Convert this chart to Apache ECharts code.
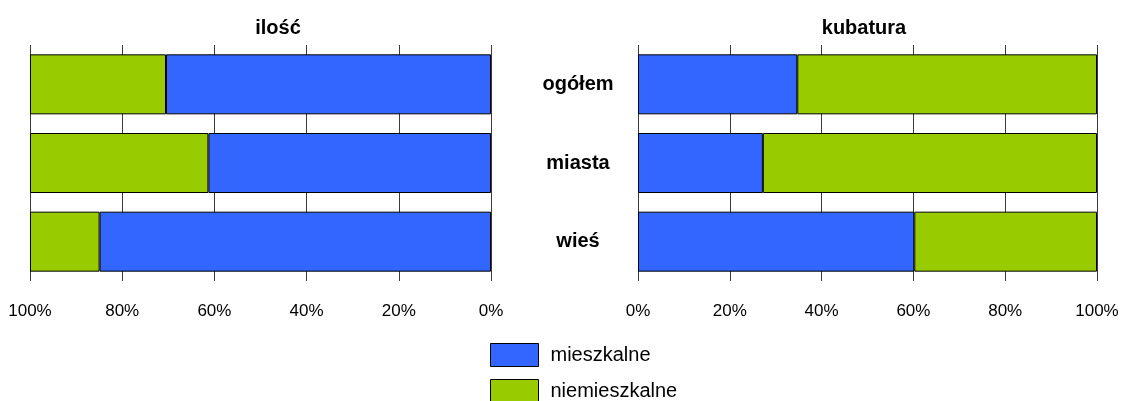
<!DOCTYPE html>
<html>
<head>
<meta charset="utf-8">
<script src="https://cdn.jsdelivr.net/npm/echarts@6/dist/echarts.min.js"></script>
<style>
  html, body { margin: 0; padding: 0; background: #fff; }
  #chart { width: 1144px; height: 401px; }
</style>
</head>
<body>
<div id="chart"></div>
<script>
// Udział budynków mieszkalnych i niemieszkalnych (%)
const categories = ['ogółem', 'miasta', 'wieś'];
const seriesNames = ['mieszkalne', 'niemieszkalne'];
// ilość
const iloscMieszkalne = [70.5, 61.3, 84.9];
const iloscNiemieszkalne = [29.5, 38.7, 15.1];
// kubatura
const kubaturaMieszkalne = [34.7, 27.2, 60.2];
const kubaturaNiemieszkalne = [65.3, 72.8, 39.8];
const panelTitles = ['ilość', 'kubatura'];
const tickValues = [0, 20, 40, 60, 80, 100];

const BLUE = '#3366FF';
const GREEN = '#99CC00';
const FONT = '"Liberation Sans", Arial, sans-serif';

const chart = echarts.init(document.getElementById('chart'), null, { renderer: 'canvas' });

function valueAxis(gridIndex, inverse) {
  return {
    type: 'value',
    gridIndex: gridIndex,
    min: tickValues[0],
    max: tickValues[tickValues.length - 1],
    interval: tickValues[1] - tickValues[0],
    inverse: inverse,
    axisLine: { show: false },
    axisTick: { show: false },
    axisLabel: {
      formatter: '{value}%',
      color: '#000',
      fontFamily: FONT,
      fontSize: 17,
      margin: 22
    },
    splitLine: { show: true, lineStyle: { color: '#3a3a3a', width: 1 } }
  };
}

function catAxis(gridIndex, showLabels) {
  return {
    type: 'category',
    gridIndex: gridIndex,
    data: categories,
    inverse: true,
    position: 'right',
    axisLine: { show: false },
    axisTick: { show: false },
    splitLine: { show: false },
    axisLabel: {
      show: showLabels,
      align: 'center',
      margin: 87,
      color: '#000',
      fontFamily: FONT,
      fontWeight: 'bold',
      fontSize: 20
    }
  };
}

function barSeries(name, data, idx, color, stack) {
  return {
    type: 'bar',
    name: name,
    data: data,
    xAxisIndex: idx,
    yAxisIndex: idx,
    stack: stack,
    barWidth: 60,
    itemStyle: { color: color, borderColor: '#000', borderWidth: 1 },
    emphasis: { disabled: true }
  };
}

function legendItem(name, top) {
  return {
    data: [name],
    left: 485,
    top: top,
    itemWidth: 48,
    itemHeight: 23,
    icon: 'rect',
    itemStyle: { borderColor: '#000', borderWidth: 1 },
    textStyle: { fontFamily: FONT, fontSize: 20, color: '#000', padding: [0, 0, 0, 7] }
  };
}

const titleStyle = { fontFamily: FONT, fontSize: 20, fontWeight: 'bold', color: '#000' };

chart.setOption({
  animation: false,
  backgroundColor: '#fff',
  title: [
    { text: panelTitles[0], left: 273, top: 13, textAlign: 'center', textStyle: titleStyle },
    { text: panelTitles[1], left: 859, top: 13, textAlign: 'center', textStyle: titleStyle }
  ],
  grid: [
    { left: 30, right: 653, top: 45, height: 236 },
    { left: 638, right: 47, top: 45, height: 236 }
  ],
  xAxis: [valueAxis(0, true), valueAxis(1, false)],
  yAxis: [catAxis(0, true), catAxis(1, false)],
  legend: [legendItem(seriesNames[0], 338), legendItem(seriesNames[1], 374)],
  series: [
    barSeries(seriesNames[0], iloscMieszkalne, 0, BLUE, 'ilosc'),
    barSeries(seriesNames[1], iloscNiemieszkalne, 0, GREEN, 'ilosc'),
    barSeries(seriesNames[0], kubaturaMieszkalne, 1, BLUE, 'kubatura'),
    barSeries(seriesNames[1], kubaturaNiemieszkalne, 1, GREEN, 'kubatura')
  ]
});
</script>
</body>
</html>
